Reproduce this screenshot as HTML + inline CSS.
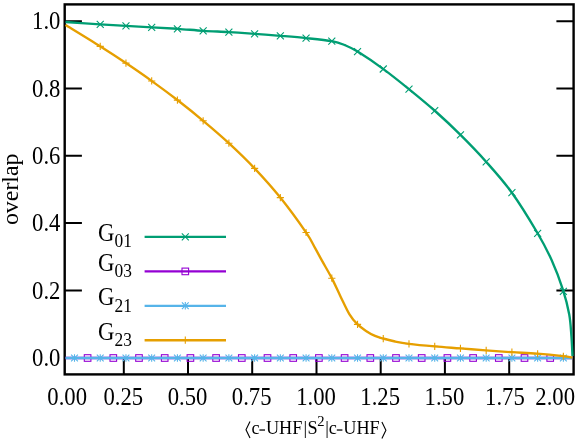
<!DOCTYPE html>
<html><head><meta charset="utf-8"><title>overlap</title>
<style>
html,body{margin:0;padding:0;background:#fff;}
body{width:579px;height:442px;overflow:hidden;}
svg{will-change:transform;}
svg text{font-family:"Liberation Serif",serif;fill:#000;}
</style></head><body>
<svg width="579" height="442" viewBox="0 0 579 442" style="display:block">
<rect width="579" height="442" fill="#fff"/>
<path d="M64.70,21.20 h17.2 M573.60,21.20 h-17.2" stroke="#000" stroke-width="2.0"/>
<path d="M64.70,88.50 h17.2 M573.60,88.50 h-17.2" stroke="#000" stroke-width="2.0"/>
<path d="M64.70,155.80 h17.2 M573.60,155.80 h-17.2" stroke="#000" stroke-width="2.0"/>
<path d="M64.70,223.10 h17.2 M573.60,223.10 h-17.2" stroke="#000" stroke-width="2.0"/>
<path d="M64.70,290.40 h17.2 M573.60,290.40 h-17.2" stroke="#000" stroke-width="2.0"/>
<path d="M64.70,358.00 h17.2 M573.60,358.00 h-17.2" stroke="#000" stroke-width="2.0"/>
<path d="M123.80,374.40 v-17.2" stroke="#000" stroke-width="2.0"/>
<path d="M188.00,374.40 v-17.2" stroke="#000" stroke-width="2.0"/>
<path d="M252.20,374.40 v-17.2" stroke="#000" stroke-width="2.0"/>
<path d="M316.50,374.40 v-17.2" stroke="#000" stroke-width="2.0"/>
<path d="M380.70,374.40 v-17.2" stroke="#000" stroke-width="2.0"/>
<path d="M444.90,374.40 v-17.2" stroke="#000" stroke-width="2.0"/>
<path d="M509.20,374.40 v-17.2" stroke="#000" stroke-width="2.0"/>
<rect x="64.70" y="4.40" width="508.90" height="370.00" fill="none" stroke="#000" stroke-width="2.4"/>
<path d="M65.50,22.00 C71.27,22.38 90.03,23.67 100.10,24.30 C110.17,24.93 117.27,25.30 125.90,25.80 C134.53,26.30 143.27,26.80 151.90,27.30 C160.53,27.80 169.12,28.22 177.70,28.80 C186.28,29.38 194.83,30.25 203.40,30.80 C211.97,31.35 220.53,31.60 229.10,32.10 C237.67,32.60 246.25,33.18 254.80,33.80 C263.35,34.42 271.83,35.08 280.40,35.80 C288.97,36.52 297.62,37.20 306.20,38.10 C314.78,39.00 325.43,40.02 331.90,41.20 C338.37,42.38 340.72,43.47 345.00,45.20 C349.28,46.93 351.20,47.62 357.60,51.60 C364.00,55.58 374.80,62.82 383.40,69.10 C392.00,75.38 400.58,82.32 409.20,89.30 C417.82,96.28 426.55,103.40 435.10,111.00 C443.65,118.60 452.00,126.45 460.50,134.90 C469.00,143.35 477.53,152.07 486.10,161.70 C494.67,171.33 503.43,180.98 511.90,192.70 C520.37,204.42 530.28,220.78 536.90,232.00 C543.52,243.22 547.25,250.35 551.60,260.00 C555.95,269.65 560.07,280.85 563.00,289.90 C565.93,298.95 567.80,306.62 569.20,314.30 C570.60,321.98 570.85,329.05 571.40,336.00 C571.95,342.95 572.32,352.67 572.50,356.00" fill="none" stroke="#009E73" stroke-width="2.35" stroke-linejoin="round"/>
<path d="M96.73,20.81 L103.73,27.81 M96.73,27.81 L103.73,20.81" stroke="#009E73" stroke-width="1.1" fill="none"/>
<path d="M122.46,22.30 L129.46,29.30 M122.46,29.30 L129.46,22.30" stroke="#009E73" stroke-width="1.1" fill="none"/>
<path d="M148.19,23.79 L155.19,30.79 M148.19,30.79 L155.19,23.79" stroke="#009E73" stroke-width="1.1" fill="none"/>
<path d="M173.92,25.28 L180.92,32.28 M173.92,32.28 L180.92,25.28" stroke="#009E73" stroke-width="1.1" fill="none"/>
<path d="M199.65,27.28 L206.65,34.28 M199.65,34.28 L206.65,27.28" stroke="#009E73" stroke-width="1.1" fill="none"/>
<path d="M225.38,28.59 L232.38,35.59 M225.38,35.59 L232.38,28.59" stroke="#009E73" stroke-width="1.1" fill="none"/>
<path d="M251.11,30.29 L258.11,37.29 M251.11,37.29 L258.11,30.29" stroke="#009E73" stroke-width="1.1" fill="none"/>
<path d="M276.84,32.30 L283.84,39.30 M276.84,39.30 L283.84,32.30" stroke="#009E73" stroke-width="1.1" fill="none"/>
<path d="M302.57,34.59 L309.57,41.59 M302.57,41.59 L309.57,34.59" stroke="#009E73" stroke-width="1.1" fill="none"/>
<path d="M328.30,37.69 L335.30,44.69 M328.30,44.69 L335.30,37.69" stroke="#009E73" stroke-width="1.1" fill="none"/>
<path d="M354.03,48.06 L361.03,55.06 M354.03,55.06 L361.03,48.06" stroke="#009E73" stroke-width="1.1" fill="none"/>
<path d="M379.76,65.51 L386.76,72.51 M379.76,72.51 L386.76,65.51" stroke="#009E73" stroke-width="1.1" fill="none"/>
<path d="M405.49,85.64 L412.49,92.64 M405.49,92.64 L412.49,85.64" stroke="#009E73" stroke-width="1.1" fill="none"/>
<path d="M431.22,107.18 L438.22,114.18 M431.22,114.18 L438.22,107.18" stroke="#009E73" stroke-width="1.1" fill="none"/>
<path d="M456.95,131.35 L463.95,138.35 M456.95,138.35 L463.95,131.35" stroke="#009E73" stroke-width="1.1" fill="none"/>
<path d="M482.68,158.30 L489.68,165.30 M482.68,165.30 L489.68,158.30" stroke="#009E73" stroke-width="1.1" fill="none"/>
<path d="M508.41,189.22 L515.41,196.22 M508.41,196.22 L515.41,189.22" stroke="#009E73" stroke-width="1.1" fill="none"/>
<path d="M534.14,229.91 L541.14,236.91 M534.14,236.91 L541.14,229.91" stroke="#009E73" stroke-width="1.1" fill="none"/>
<path d="M559.87,287.86 L566.87,294.86 M559.87,294.86 L566.87,287.86" stroke="#009E73" stroke-width="1.1" fill="none"/>
<path d="M65.50,358.00 L572.50,358.00" stroke="#9400D3" stroke-width="2.35"/>
<rect x="84.30" y="354.70" width="6.60" height="6.60" stroke="#9400D3" stroke-width="1.1" fill="none"/>
<rect x="110.00" y="354.70" width="6.60" height="6.60" stroke="#9400D3" stroke-width="1.1" fill="none"/>
<rect x="135.70" y="354.70" width="6.60" height="6.60" stroke="#9400D3" stroke-width="1.1" fill="none"/>
<rect x="161.40" y="354.70" width="6.60" height="6.60" stroke="#9400D3" stroke-width="1.1" fill="none"/>
<rect x="187.10" y="354.70" width="6.60" height="6.60" stroke="#9400D3" stroke-width="1.1" fill="none"/>
<rect x="212.80" y="354.70" width="6.60" height="6.60" stroke="#9400D3" stroke-width="1.1" fill="none"/>
<rect x="238.50" y="354.70" width="6.60" height="6.60" stroke="#9400D3" stroke-width="1.1" fill="none"/>
<rect x="264.20" y="354.70" width="6.60" height="6.60" stroke="#9400D3" stroke-width="1.1" fill="none"/>
<rect x="289.90" y="354.70" width="6.60" height="6.60" stroke="#9400D3" stroke-width="1.1" fill="none"/>
<rect x="315.60" y="354.70" width="6.60" height="6.60" stroke="#9400D3" stroke-width="1.1" fill="none"/>
<rect x="341.30" y="354.70" width="6.60" height="6.60" stroke="#9400D3" stroke-width="1.1" fill="none"/>
<rect x="367.00" y="354.70" width="6.60" height="6.60" stroke="#9400D3" stroke-width="1.1" fill="none"/>
<rect x="392.70" y="354.70" width="6.60" height="6.60" stroke="#9400D3" stroke-width="1.1" fill="none"/>
<rect x="418.40" y="354.70" width="6.60" height="6.60" stroke="#9400D3" stroke-width="1.1" fill="none"/>
<rect x="444.10" y="354.70" width="6.60" height="6.60" stroke="#9400D3" stroke-width="1.1" fill="none"/>
<rect x="469.80" y="354.70" width="6.60" height="6.60" stroke="#9400D3" stroke-width="1.1" fill="none"/>
<rect x="495.50" y="354.70" width="6.60" height="6.60" stroke="#9400D3" stroke-width="1.1" fill="none"/>
<rect x="521.20" y="354.70" width="6.60" height="6.60" stroke="#9400D3" stroke-width="1.1" fill="none"/>
<rect x="546.90" y="354.70" width="6.60" height="6.60" stroke="#9400D3" stroke-width="1.1" fill="none"/>
<path d="M65.50,358.00 L572.50,358.00" stroke="#56B4E9" stroke-width="2.35"/>
<path d="M70.70,358.00 L78.30,358.00 M74.50,354.20 L74.50,361.80" stroke="#56B4E9" stroke-width="1.1" fill="none"/><path d="M71.10,354.60 L77.90,361.40 M71.10,361.40 L77.90,354.60" stroke="#56B4E9" stroke-width="1.1" fill="none"/>
<path d="M96.43,358.00 L104.03,358.00 M100.23,354.20 L100.23,361.80" stroke="#56B4E9" stroke-width="1.1" fill="none"/><path d="M96.83,354.60 L103.63,361.40 M96.83,361.40 L103.63,354.60" stroke="#56B4E9" stroke-width="1.1" fill="none"/>
<path d="M122.16,358.00 L129.76,358.00 M125.96,354.20 L125.96,361.80" stroke="#56B4E9" stroke-width="1.1" fill="none"/><path d="M122.56,354.60 L129.36,361.40 M122.56,361.40 L129.36,354.60" stroke="#56B4E9" stroke-width="1.1" fill="none"/>
<path d="M147.89,358.00 L155.49,358.00 M151.69,354.20 L151.69,361.80" stroke="#56B4E9" stroke-width="1.1" fill="none"/><path d="M148.29,354.60 L155.09,361.40 M148.29,361.40 L155.09,354.60" stroke="#56B4E9" stroke-width="1.1" fill="none"/>
<path d="M173.62,358.00 L181.22,358.00 M177.42,354.20 L177.42,361.80" stroke="#56B4E9" stroke-width="1.1" fill="none"/><path d="M174.02,354.60 L180.82,361.40 M174.02,361.40 L180.82,354.60" stroke="#56B4E9" stroke-width="1.1" fill="none"/>
<path d="M199.35,358.00 L206.95,358.00 M203.15,354.20 L203.15,361.80" stroke="#56B4E9" stroke-width="1.1" fill="none"/><path d="M199.75,354.60 L206.55,361.40 M199.75,361.40 L206.55,354.60" stroke="#56B4E9" stroke-width="1.1" fill="none"/>
<path d="M225.08,358.00 L232.68,358.00 M228.88,354.20 L228.88,361.80" stroke="#56B4E9" stroke-width="1.1" fill="none"/><path d="M225.48,354.60 L232.28,361.40 M225.48,361.40 L232.28,354.60" stroke="#56B4E9" stroke-width="1.1" fill="none"/>
<path d="M250.81,358.00 L258.41,358.00 M254.61,354.20 L254.61,361.80" stroke="#56B4E9" stroke-width="1.1" fill="none"/><path d="M251.21,354.60 L258.01,361.40 M251.21,361.40 L258.01,354.60" stroke="#56B4E9" stroke-width="1.1" fill="none"/>
<path d="M276.54,358.00 L284.14,358.00 M280.34,354.20 L280.34,361.80" stroke="#56B4E9" stroke-width="1.1" fill="none"/><path d="M276.94,354.60 L283.74,361.40 M276.94,361.40 L283.74,354.60" stroke="#56B4E9" stroke-width="1.1" fill="none"/>
<path d="M302.27,358.00 L309.87,358.00 M306.07,354.20 L306.07,361.80" stroke="#56B4E9" stroke-width="1.1" fill="none"/><path d="M302.67,354.60 L309.47,361.40 M302.67,361.40 L309.47,354.60" stroke="#56B4E9" stroke-width="1.1" fill="none"/>
<path d="M328.00,358.00 L335.60,358.00 M331.80,354.20 L331.80,361.80" stroke="#56B4E9" stroke-width="1.1" fill="none"/><path d="M328.40,354.60 L335.20,361.40 M328.40,361.40 L335.20,354.60" stroke="#56B4E9" stroke-width="1.1" fill="none"/>
<path d="M353.73,358.00 L361.33,358.00 M357.53,354.20 L357.53,361.80" stroke="#56B4E9" stroke-width="1.1" fill="none"/><path d="M354.13,354.60 L360.93,361.40 M354.13,361.40 L360.93,354.60" stroke="#56B4E9" stroke-width="1.1" fill="none"/>
<path d="M379.46,358.00 L387.06,358.00 M383.26,354.20 L383.26,361.80" stroke="#56B4E9" stroke-width="1.1" fill="none"/><path d="M379.86,354.60 L386.66,361.40 M379.86,361.40 L386.66,354.60" stroke="#56B4E9" stroke-width="1.1" fill="none"/>
<path d="M405.19,358.00 L412.79,358.00 M408.99,354.20 L408.99,361.80" stroke="#56B4E9" stroke-width="1.1" fill="none"/><path d="M405.59,354.60 L412.39,361.40 M405.59,361.40 L412.39,354.60" stroke="#56B4E9" stroke-width="1.1" fill="none"/>
<path d="M430.92,358.00 L438.52,358.00 M434.72,354.20 L434.72,361.80" stroke="#56B4E9" stroke-width="1.1" fill="none"/><path d="M431.32,354.60 L438.12,361.40 M431.32,361.40 L438.12,354.60" stroke="#56B4E9" stroke-width="1.1" fill="none"/>
<path d="M456.65,358.00 L464.25,358.00 M460.45,354.20 L460.45,361.80" stroke="#56B4E9" stroke-width="1.1" fill="none"/><path d="M457.05,354.60 L463.85,361.40 M457.05,361.40 L463.85,354.60" stroke="#56B4E9" stroke-width="1.1" fill="none"/>
<path d="M482.38,358.00 L489.98,358.00 M486.18,354.20 L486.18,361.80" stroke="#56B4E9" stroke-width="1.1" fill="none"/><path d="M482.78,354.60 L489.58,361.40 M482.78,361.40 L489.58,354.60" stroke="#56B4E9" stroke-width="1.1" fill="none"/>
<path d="M508.11,358.00 L515.71,358.00 M511.91,354.20 L511.91,361.80" stroke="#56B4E9" stroke-width="1.1" fill="none"/><path d="M508.51,354.60 L515.31,361.40 M508.51,361.40 L515.31,354.60" stroke="#56B4E9" stroke-width="1.1" fill="none"/>
<path d="M533.84,358.00 L541.44,358.00 M537.64,354.20 L537.64,361.80" stroke="#56B4E9" stroke-width="1.1" fill="none"/><path d="M534.24,354.60 L541.04,361.40 M534.24,361.40 L541.04,354.60" stroke="#56B4E9" stroke-width="1.1" fill="none"/>
<path d="M559.57,358.00 L567.17,358.00 M563.37,354.20 L563.37,361.80" stroke="#56B4E9" stroke-width="1.1" fill="none"/><path d="M559.97,354.60 L566.77,361.40 M559.97,361.40 L566.77,354.60" stroke="#56B4E9" stroke-width="1.1" fill="none"/>
<path d="M65.50,25.00 C71.27,28.55 90.03,39.95 100.10,46.30 C110.17,52.65 117.27,57.30 125.90,63.10 C134.53,68.90 143.27,74.90 151.90,81.10 C160.53,87.30 169.10,93.63 177.70,100.30 C186.30,106.97 194.93,113.92 203.50,121.10 C212.07,128.28 220.55,135.48 229.10,143.40 C237.65,151.32 246.27,159.57 254.80,168.60 C263.33,177.63 271.77,186.97 280.30,197.60 C288.83,208.23 300.22,224.02 306.00,232.40 C311.78,240.78 312.27,243.07 315.00,247.90 C317.73,252.73 319.58,256.32 322.40,261.40 C325.22,266.48 328.88,272.57 331.90,278.40 C334.92,284.23 337.57,290.40 340.50,296.40 C343.43,302.40 346.70,309.77 349.50,314.40 C352.30,319.03 354.55,321.45 357.30,324.20 C360.05,326.95 363.05,328.95 366.00,330.90 C368.95,332.85 372.15,334.63 375.00,335.90 C377.85,337.17 379.75,337.57 383.10,338.50 C386.45,339.43 390.80,340.62 395.10,341.50 C399.40,342.38 402.30,342.98 408.90,343.80 C415.50,344.62 426.13,345.63 434.70,346.40 C443.27,347.17 451.78,347.73 460.30,348.40 C468.82,349.07 477.25,349.77 485.80,350.40 C494.35,351.03 503.03,351.65 511.60,352.20 C520.17,352.75 528.60,353.03 537.20,353.70 C545.80,354.37 557.32,355.55 563.20,356.20 C569.08,356.85 570.95,357.37 572.50,357.60" fill="none" stroke="#E69F00" stroke-width="2.35" stroke-linejoin="round"/>
<path d="M96.63,46.38 L103.83,46.38 M100.23,42.78 L100.23,49.98" stroke="#E69F00" stroke-width="1.1" fill="none"/>
<path d="M122.36,63.14 L129.56,63.14 M125.96,59.54 L125.96,66.74" stroke="#E69F00" stroke-width="1.1" fill="none"/>
<path d="M148.09,80.95 L155.29,80.95 M151.69,77.35 L151.69,84.55" stroke="#E69F00" stroke-width="1.1" fill="none"/>
<path d="M173.82,100.09 L181.02,100.09 M177.42,96.49 L177.42,103.69" stroke="#E69F00" stroke-width="1.1" fill="none"/>
<path d="M199.55,120.82 L206.75,120.82 M203.15,117.22 L203.15,124.42" stroke="#E69F00" stroke-width="1.1" fill="none"/>
<path d="M225.28,143.21 L232.48,143.21 M228.88,139.61 L228.88,146.81" stroke="#E69F00" stroke-width="1.1" fill="none"/>
<path d="M251.01,168.41 L258.21,168.41 M254.61,164.81 L254.61,172.01" stroke="#E69F00" stroke-width="1.1" fill="none"/>
<path d="M276.74,197.65 L283.94,197.65 M280.34,194.05 L280.34,201.25" stroke="#E69F00" stroke-width="1.1" fill="none"/>
<path d="M302.47,232.52 L309.67,232.52 M306.07,228.92 L306.07,236.12" stroke="#E69F00" stroke-width="1.1" fill="none"/>
<path d="M328.20,278.22 L335.40,278.22 M331.80,274.62 L331.80,281.82" stroke="#E69F00" stroke-width="1.1" fill="none"/>
<path d="M353.93,324.38 L361.13,324.38 M357.53,320.78 L357.53,327.98" stroke="#E69F00" stroke-width="1.1" fill="none"/>
<path d="M379.66,338.54 L386.86,338.54 M383.26,334.94 L383.26,342.14" stroke="#E69F00" stroke-width="1.1" fill="none"/>
<path d="M405.39,343.81 L412.59,343.81 M408.99,340.21 L408.99,347.41" stroke="#E69F00" stroke-width="1.1" fill="none"/>
<path d="M431.12,346.40 L438.32,346.40 M434.72,342.80 L434.72,350.00" stroke="#E69F00" stroke-width="1.1" fill="none"/>
<path d="M456.85,348.41 L464.05,348.41 M460.45,344.81 L460.45,352.01" stroke="#E69F00" stroke-width="1.1" fill="none"/>
<path d="M482.58,350.43 L489.78,350.43 M486.18,346.83 L486.18,354.03" stroke="#E69F00" stroke-width="1.1" fill="none"/>
<path d="M508.31,352.22 L515.51,352.22 M511.91,348.62 L511.91,355.82" stroke="#E69F00" stroke-width="1.1" fill="none"/>
<path d="M534.04,353.74 L541.24,353.74 M537.64,350.14 L537.64,357.34" stroke="#E69F00" stroke-width="1.1" fill="none"/>
<path d="M559.77,356.23 L566.97,356.23 M563.37,352.63 L563.37,359.83" stroke="#E69F00" stroke-width="1.1" fill="none"/>
<path d="M144.60,236.90 L226.00,236.90" stroke="#009E73" stroke-width="2.35"/>
<path d="M181.80,233.40 L188.80,240.40 M181.80,240.40 L188.80,233.40" stroke="#009E73" stroke-width="1.1" fill="none"/>
<text transform="translate(98.00,240.70) scale(1,1.07)" font-size="22.7" text-anchor="start">G</text>
<text transform="translate(114.50,247.10) scale(1,1.1)" font-size="17.4" text-anchor="start">01</text>
<path d="M144.60,271.40 L226.00,271.40" stroke="#9400D3" stroke-width="2.35"/>
<rect x="182.00" y="268.10" width="6.60" height="6.60" stroke="#9400D3" stroke-width="1.1" fill="none"/>
<text transform="translate(98.00,270.90) scale(1,1.07)" font-size="22.7" text-anchor="start">G</text>
<text transform="translate(114.50,277.30) scale(1,1.1)" font-size="17.4" text-anchor="start">03</text>
<path d="M144.60,305.80 L226.00,305.80" stroke="#56B4E9" stroke-width="2.35"/>
<path d="M181.50,305.80 L189.10,305.80 M185.30,302.00 L185.30,309.60" stroke="#56B4E9" stroke-width="1.1" fill="none"/><path d="M181.90,302.40 L188.70,309.20 M181.90,309.20 L188.70,302.40" stroke="#56B4E9" stroke-width="1.1" fill="none"/>
<text transform="translate(98.00,305.30) scale(1,1.07)" font-size="22.7" text-anchor="start">G</text>
<text transform="translate(114.50,311.70) scale(1,1.1)" font-size="17.4" text-anchor="start">21</text>
<path d="M144.60,340.20 L226.00,340.20" stroke="#E69F00" stroke-width="2.35"/>
<path d="M181.70,340.20 L188.90,340.20 M185.30,336.60 L185.30,343.80" stroke="#E69F00" stroke-width="1.1" fill="none"/>
<text transform="translate(98.00,339.80) scale(1,1.07)" font-size="22.7" text-anchor="start">G</text>
<text transform="translate(114.50,346.20) scale(1,1.1)" font-size="17.4" text-anchor="start">23</text>
<text transform="translate(60.40,29.30) scale(1,1.07)" font-size="22.7" text-anchor="end">1.0</text>
<text transform="translate(60.40,96.60) scale(1,1.07)" font-size="22.7" text-anchor="end">0.8</text>
<text transform="translate(60.40,163.90) scale(1,1.07)" font-size="22.7" text-anchor="end">0.6</text>
<text transform="translate(60.40,231.20) scale(1,1.07)" font-size="22.7" text-anchor="end">0.4</text>
<text transform="translate(60.40,298.50) scale(1,1.07)" font-size="22.7" text-anchor="end">0.2</text>
<text transform="translate(60.40,366.10) scale(1,1.07)" font-size="22.7" text-anchor="end">0.0</text>
<text transform="translate(123.30,404.50) scale(1,1.07)" font-size="22.7" text-anchor="middle">0.25</text>
<text transform="translate(187.50,404.50) scale(1,1.07)" font-size="22.7" text-anchor="middle">0.50</text>
<text transform="translate(251.70,404.50) scale(1,1.07)" font-size="22.7" text-anchor="middle">0.75</text>
<text transform="translate(316.00,404.50) scale(1,1.07)" font-size="22.7" text-anchor="middle">1.00</text>
<text transform="translate(380.20,404.50) scale(1,1.07)" font-size="22.7" text-anchor="middle">1.25</text>
<text transform="translate(444.40,404.50) scale(1,1.07)" font-size="22.7" text-anchor="middle">1.50</text>
<text transform="translate(504.90,404.50) scale(1,1.07)" font-size="22.7" text-anchor="middle">1.75</text>
<text transform="translate(67.20,404.50) scale(1,1.07)" font-size="22.7" text-anchor="middle">0.00</text>
<text transform="translate(555.20,404.50) scale(1,1.07)" font-size="22.7" text-anchor="middle">2.00</text>
<text transform="translate(17.50,189.30) rotate(-90) scale(1,1.0)" font-size="23.9" text-anchor="middle">overlap</text>
<path d="M250.00,421.40 L246.00,429.70 L250.00,438.00" fill="none" stroke="#000" stroke-width="1.1"/>
<text transform="translate(251.45,434.20) scale(1,1.03)" font-size="18.2" text-anchor="start">c</text>
<rect x="259.40" y="429.4" width="5.60" height="1.25" fill="#000"/>
<text transform="translate(265.90,434.20) scale(1,1.03)" font-size="18.2" text-anchor="start">UHF</text>
<text transform="translate(303.50,434.20) scale(1,1.03)" font-size="18.2" text-anchor="start">|</text>
<text transform="translate(307.60,434.20) scale(1,1.03)" font-size="18.2" text-anchor="start">S</text>
<text transform="translate(317.20,425.60) scale(1,1.0)" font-size="14.6" text-anchor="start">2</text>
<text transform="translate(325.30,434.20) scale(1,1.03)" font-size="18.2" text-anchor="start">|</text>
<text transform="translate(328.85,434.20) scale(1,1.03)" font-size="18.2" text-anchor="start">c</text>
<rect x="336.80" y="429.4" width="5.60" height="1.25" fill="#000"/>
<text transform="translate(343.30,434.20) scale(1,1.03)" font-size="18.2" text-anchor="start">UHF</text>
<path d="M381.90,421.90 L385.90,430.20 L381.90,438.50" fill="none" stroke="#000" stroke-width="1.1"/>
</svg>
</body></html>
